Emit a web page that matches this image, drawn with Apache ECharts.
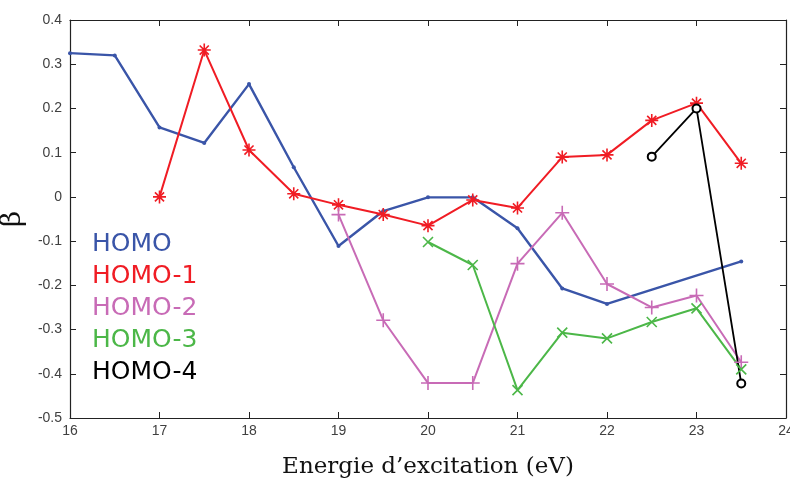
<!DOCTYPE html>
<html><head><meta charset="utf-8">
<script src="https://cdn.jsdelivr.net/npm/echarts@6/dist/echarts.min.js"></script>
<style>html,body{margin:0;padding:0;background:#fff}#c{width:790px;height:481px}</style>
</head><body><div id="c"></div>
<script>
const seriesNames = ['HOMO','HOMO-1','HOMO-2','HOMO-3','HOMO-4'];
const xTicks = [16,17,18,19,20,21,22,23,24];
const yTicks = [-0.5,-0.4,-0.3,-0.2,-0.1,0,0.1,0.2,0.3,0.4];
const homoX = [16,16.5,17,17.5,18,18.5,19,19.5,20,20.5,21,21.5,22,23.5];
const homoY = [0.325,0.32,0.157,0.122,0.255,0.067,-0.111,-0.032,-0.001,-0.001,-0.071,-0.207,-0.242,-0.146];
const homo1X = [17,17.5,18,18.5,19,19.5,20,20.5,21,21.5,22,22.5,23,23.5];
const homo1Y = [0.0,0.332,0.106,0.007,-0.018,-0.04,-0.065,-0.007,-0.025,0.09,0.095,0.173,0.212,0.076];
const homo2X = [19,19.5,20,20.5,21,21.5,22,22.5,23,23.5];
const homo2Y = [-0.04,-0.279,-0.421,-0.421,-0.151,-0.036,-0.197,-0.25,-0.223,-0.374];
const homo3X = [20,20.5,21,21.5,22,22.5,23,23.5];
const homo3Y = [-0.102,-0.154,-0.437,-0.307,-0.32,-0.283,-0.252,-0.39];
const homo4X = [22.5,23,23.5];
const homo4Y = [0.091,0.2,-0.422];
const colors = ['#3a55a8','#f01c24','#c86bb6','#4cb748','#000000'];

const zip = (xs, ys) => xs.map((x, i) => [x, ys[i]]);
const asterisk = 'path://M0,-6L0,6M-6,0L6,0M-4.2,-4.2L4.2,4.2M-4.2,4.2L4.2,-4.2';
const plus = 'path://M0,-7L0,7M-7,0L7,0';
const cross = 'path://M-5,-5L5,5M-5,5L5,-5';
const dot = 'circle';

const chart = echarts.init(document.getElementById('c'), null, {renderer: 'canvas'});
const mk = (i, xs, ys, sym, size, extra) => Object.assign({
  name: seriesNames[i], type: 'line', data: zip(xs, ys), symbol: sym, symbolSize: size,
  lineStyle: {color: colors[i], width: 2}, animation: false,
  itemStyle: {color: colors[i], borderColor: colors[i], borderWidth: 1.6}
}, extra || {});
const axisLbl = {color: '#404040', fontSize: 14, fontFamily: 'Liberation Sans, Arial, sans-serif'};
const lineS = {onZero: false, lineStyle: {color: '#222', width: 1.2}};
chart.setOption({
  backgroundColor: '#fff',
  animation: false,
  grid: {left: 70, right: 4, top: 20, bottom: 63, containLabel: false, outerBoundsMode: 'none'},
  legend: {
    left: 86, top: 227, orient: 'vertical', itemGap: 7, itemWidth: 0, itemHeight: 0, icon: 'none',
    selectedMode: false,
    data: seriesNames.map((n, i) => ({name: n, textStyle: {color: colors[i]}})),
    textStyle: {fontSize: 25, fontFamily: 'DejaVu Sans, Verdana, sans-serif', padding: [0,0,0,-4]}
  },
  xAxis: [{
    type: 'value', min: 16, max: 24, interval: 1,
    axisLine: lineS,
    axisTick: {inside: true, length: 6, lineStyle: {color: '#222'}},
    axisLabel: Object.assign({margin: 6}, axisLbl),
    splitLine: {show: false},
    name: 'Energie d\u2019excitation (eV)', nameLocation: 'middle', nameGap: 38,
    nameTextStyle: {fontFamily: 'DejaVu Serif, Liberation Serif, serif', fontSize: 23, color: '#111'}
  }, {
    type: 'value', min: 16, max: 24, interval: 1, position: 'top',
    axisLine: Object.assign({show: true}, lineS),
    axisTick: {inside: true, length: 6, lineStyle: {color: '#222'}},
    axisLabel: {show: false}, splitLine: {show: false}
  }],
  yAxis: [{
    type: 'value', min: -0.5, max: 0.4, interval: 0.1,
    axisLine: Object.assign({show: true}, lineS),
    axisTick: {show: true, inside: true, length: 6, lineStyle: {color: '#222'}},
    axisLabel: Object.assign({margin: 8, formatter: v => {
      const r = Math.round(v * 10) / 10; return r === 0 ? '0' : String(r);
    }}, axisLbl),
    splitLine: {show: false},
    name: '\u03b2', nameLocation: 'middle', nameGap: 43, nameRotate: 90,
    nameTextStyle: {fontFamily: 'DejaVu Serif, Liberation Serif, serif', fontSize: 28, color: '#111'}
  }, {
    type: 'value', min: -0.5, max: 0.4, interval: 0.1, position: 'right',
    axisLine: Object.assign({show: true}, lineS),
    axisTick: {show: true, inside: true, length: 6, lineStyle: {color: '#222'}},
    axisLabel: {show: false}, splitLine: {show: false}
  }],
  series: [
    mk(0, homoX, homoY, dot, 4, {lineStyle: {color: colors[0], width: 2.4}, itemStyle: {color: colors[0]}}),
    mk(1, homo1X, homo1Y, asterisk, 13),
    mk(2, homo2X, homo2Y, plus, 14),
    mk(3, homo3X, homo3Y, cross, 10),
    mk(4, homo4X, homo4Y, 'emptyCircle', 8, {itemStyle: {color: '#000', borderColor: '#000', borderWidth: 1.6}, lineStyle: {color: '#000', width: 1.8}, z: 3})
  ]
});
</script></body></html>
